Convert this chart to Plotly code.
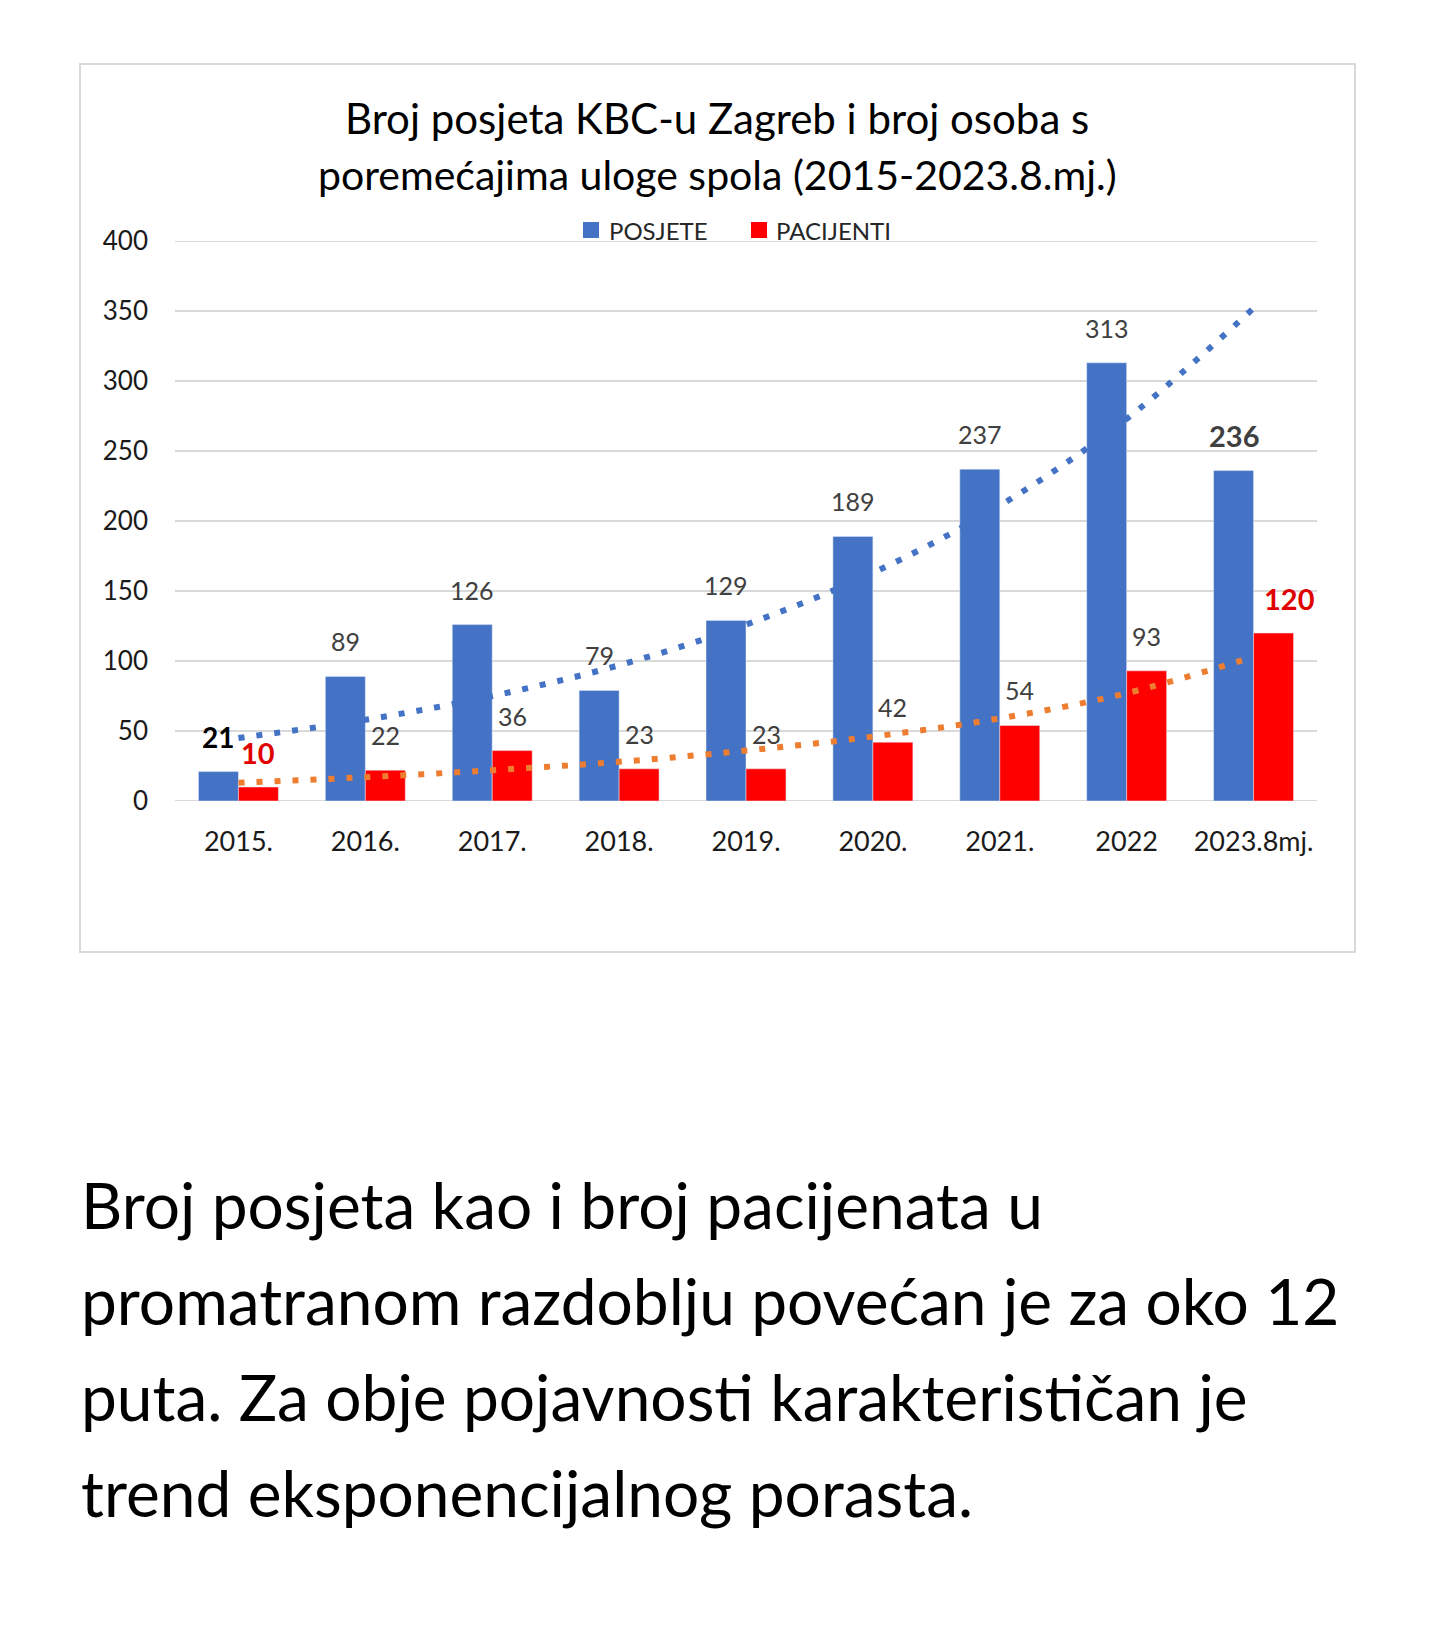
import plotly.graph_objects as go

categories = ["2015.", "2016.", "2017.", "2018.", "2019.", "2020.", "2021.", "2022", "2023.8mj."]
posjete = [21, 89, 126, 79, 129, 189, 237, 313, 236]
pacijenti = [10, 22, 36, 23, 23, 42, 54, 93, 120]
trend_posjete = [45, 58, 75, 97, 126, 163, 211, 273, 352]
trend_pacijenti = [13, 17, 22, 28, 36, 46, 59, 77, 103]
y_ticks = [0, 50, 100, 150, 200, 250, 300, 350, 400]
series_names = ["POSJETE", "PACIJENTI"]

title_lines = ["Broj posjeta KBC-u Zagreb i broj osoba s",
               "poremećajima uloge spola (2015-2023.8.mj.)"]
body_lines = ["Broj posjeta kao i broj pacijenata u",
              "promatranom razdoblju povećan je za oko 12",
              "puta. Za obje pojavnosti karakterističan je",
              "trend eksponencijalnog porasta."]

OFF = 8  # page body margin
W, H = 1440 - 2 * OFF, 1631 - 2 * OFF
# plot-area edges in reference (full-page) pixels
RL, RR, RT, RB = 175, 1317, 241, 801
PL, PR, PT, PB = RL - OFF, RR - OFF, RT - OFF, RB - OFF
FONT = "Lato"
BLUE = "#4472C4"
RED = "#FF0000"
ORANGE = "#ED7D31"
GRID = "#D9D9D9"


def px(x):
    return (x - RL) / (RR - RL)


def py(y):
    return (RB - y) / (RB - RT)


fig = go.Figure()
fig.add_trace(go.Bar(x=categories, y=posjete, name=series_names[0], marker_color=BLUE,
                     showlegend=False))
fig.add_trace(go.Bar(x=categories, y=pacijenti, name=series_names[1], marker_color=RED,
                     showlegend=False))
fig.add_trace(go.Scatter(x=categories, y=trend_posjete, mode="lines", showlegend=False,
                         line=dict(color=BLUE, width=6, dash="6px,12px", shape="spline"),
                         hoverinfo="skip"))
fig.add_trace(go.Scatter(x=categories, y=trend_pacijenti, mode="lines", showlegend=False,
                         line=dict(color=ORANGE, width=6, dash="6px,12px", shape="spline"),
                         hoverinfo="skip"))

annotations = []
last = len(categories) - 1
for i, c in enumerate(categories):
    if i == 0:
        f = dict(family=FONT, size=28, color="#000000", weight="bold")
    elif i == last:
        f = dict(family=FONT, size=29, color="#404040", weight="bold")
    else:
        f = dict(family=FONT, size=25, color="#404040")
    annotations.append(dict(x=i, y=posjete[i], xref="x", yref="y", text=str(posjete[i]),
                            showarrow=False, xshift=-20, yshift=35, font=f))
    if i == 0 or i == last:
        f2 = dict(family=FONT, size=29, color="#E00000", weight="bold")
    else:
        f2 = dict(family=FONT, size=25, color="#404040")
    annotations.append(dict(x=i, y=pacijenti[i], xref="x", yref="y", text=str(pacijenti[i]),
                            showarrow=False, xshift=36 if i == last else 20, yshift=35,
                            font=f2))

for t, yy, sz in zip(title_lines, [118, 174], [42, 41]):
    annotations.append(dict(x=px(717), y=py(yy), xref="paper", yref="paper", text=t,
                            showarrow=False, xanchor="center", yanchor="middle",
                            font=dict(family=FONT, size=sz, color="#000000")))

for t, yy in zip(body_lines, [1204, 1300, 1396, 1492]):
    annotations.append(dict(x=px(79), y=py(yy), xref="paper", yref="paper", text=t,
                            showarrow=False, xanchor="left", yanchor="middle",
                            font=dict(family=FONT, size=64, color="#000000")))

# manual legend
shapes = [dict(type="rect", xref="paper", yref="paper",
               x0=px(80), x1=px(1355), y0=py(64), y1=py(952),
               line=dict(color=GRID, width=2), layer="below")]
for name, col, sx, tx in zip(series_names, [BLUE, RED], [583, 751], [607, 774]):
    shapes.append(dict(type="rect", xref="paper", yref="paper",
                       x0=px(sx), x1=px(sx + 16), y0=py(238), y1=py(222),
                       line=dict(width=0), fillcolor=col))
    annotations.append(dict(x=px(tx), y=py(230), xref="paper", yref="paper", text=name,
                            showarrow=False, xanchor="left", yanchor="middle",
                            font=dict(family=FONT, size=24, color="#262626")))

# gridlines drawn as shapes so edges (0 and 400) are visible too
for v in y_ticks:
    shapes.append(dict(type="line", xref="paper", yref="y", x0=0, x1=1, y0=v, y1=v,
                       line=dict(color=GRID, width=2), layer="below"))

fig.update_layout(
    width=W, height=H,
    margin=dict(l=PL, r=W - PR, t=PT, b=H - PB, autoexpand=False),
    paper_bgcolor="white", plot_bgcolor="white",
    barmode="group", bargap=0.37, bargroupgap=0,
    font=dict(family=FONT, color="#262626"),
    showlegend=False,
    annotations=annotations,
    shapes=shapes,
)
fig.update_xaxes(showgrid=False, showline=False, zeroline=False,
                 tickfont=dict(family=FONT, size=27, color="#1a1a1a"),
                 ticklabelstandoff=22, range=[-0.5, 8.5])
fig.update_yaxes(range=[0, 400], tickvals=y_ticks, showgrid=False,
                 zeroline=False, showline=False,
                 tickfont=dict(family=FONT, size=26, color="#1a1a1a"),
                 ticklabelstandoff=26)

fig.write_html("out.html")
